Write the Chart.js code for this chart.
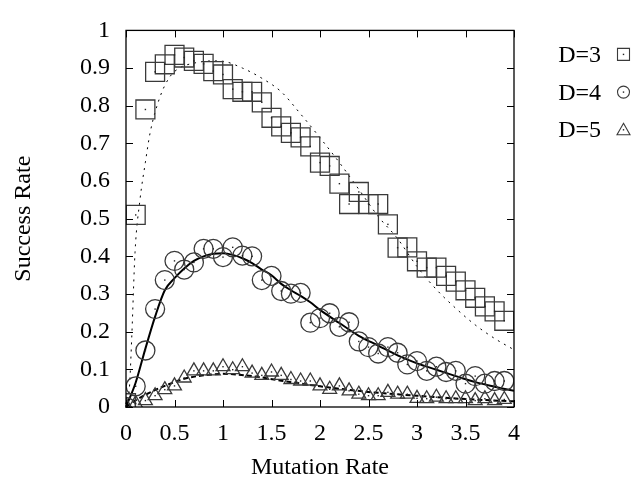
<!DOCTYPE html>
<html>
<head>
<meta charset="utf-8">
<script src="https://cdn.jsdelivr.net/npm/chart.js@4/dist/chart.umd.min.js"></script>
<style>
html,body{margin:0;padding:0;background:#fff;}
#wrap{width:644px;height:483px;}
</style>
</head>
<body>
<div id="wrap"><canvas id="c" width="644" height="483"></canvas></div>
<script>
// ---- data ----
const seriesLabels = ["D=3", "D=4", "D=5"];
const mutationRates = [0,0.1,0.2,0.3,0.4,0.5,0.6,0.7,0.8,0.9,1.0,1.1,1.2,1.3,1.4,1.5,1.6,1.7,1.8,1.9,
                       2.0,2.1,2.2,2.3,2.4,2.5,2.6,2.7,2.8,2.9,3.0,3.1,3.2,3.3,3.4,3.5,3.6,3.7,3.8,3.9];
const d3Success = [0.01,0.51,0.79,0.89,0.91,0.935,0.928,0.919,0.911,0.892,0.883,0.844,0.837,0.837,0.809,0.768,0.745,0.728,0.716,0.692,
                   0.649,0.640,0.593,0.539,0.571,0.539,0.539,0.485,0.423,0.424,0.387,0.370,0.370,0.348,0.333,0.310,0.290,0.267,0.254,0.229];
const d4Success = [0,0.055,0.15,0.26,0.337,0.388,0.365,0.384,0.42,0.42,0.398,0.424,0.402,0.40,0.337,0.348,0.308,0.301,0.303,0.224,
                   0.236,0.249,0.213,0.225,0.174,0.159,0.142,0.159,0.144,0.113,0.122,0.096,0.107,0.093,0.096,0.062,0.082,0.062,0.069,0.069];
const d5Success = [0.003,0.009,0.017,0.030,0.046,0.056,0.077,0.096,0.096,0.096,0.107,0.099,0.107,0.090,0.084,0.093,0.084,0.073,0.069,0.069,
                   0.056,0.047,0.056,0.043,0.034,0.030,0.030,0.039,0.034,0.034,0.023,0.022,0.026,0.022,0.022,0.022,0.017,0.022,0.017,0.020];

// model curves
const d3CurveX = [0,0.035,0.06,0.093,0.144,0.2,0.25,0.35,0.45,0.55,0.7,0.9,1.0,1.2,1.4,1.6,1.8,2.0,2.2,2.4,2.6,2.8,3.0,3.2,3.4,3.6,3.8,4.0];
const d3CurveY = [0,0.05,0.19,0.41,0.55,0.65,0.73,0.823,0.876,0.90,0.913,0.919,0.918,0.90,0.873,0.837,0.778,0.715,0.649,0.578,0.506,0.447,0.373,0.312,0.262,0.218,0.182,0.152];
const d4CurveX = [0,0.1,0.2,0.3,0.4,0.5,0.6,0.7,0.8,0.9,1.0,1.1,1.2,1.3,1.4,1.5,1.6,1.7,1.8,1.9,2.0,2.2,2.4,2.6,2.8,3.0,3.2,3.4,3.6,3.8,4.0];
const d4CurveY = [0,0.065,0.155,0.24,0.31,0.342,0.368,0.388,0.400,0.407,0.408,0.404,0.395,0.382,0.365,0.350,0.327,0.310,0.295,0.278,0.258,0.223,0.189,0.163,0.137,0.116,0.099,0.082,0.066,0.054,0.043];
const d5CurveX = [0,0.1,0.25,0.4,0.6,0.8,1.0,1.3,1.6,2.0,2.5,3.0,3.5,4.0];
const d5CurveY = [0,0.018,0.039,0.056,0.075,0.084,0.088,0.082,0.070,0.055,0.040,0.030,0.021,0.015];

const xTickStep = 0.5, yTickStep = 0.1;
const xMin = 0, xMax = 4, yMin = 0, yMax = 1;

// ---- build datasets ----
const pts = (xs, ys) => xs.map((x, i) => ({x: x, y: ys[i]}));
const FONT = "'Liberation Serif', 'Times New Roman', serif";
const markerColor = '#3a3a3a';
const fmt = v => String(Math.round(v * 10) / 10);

const datasets = [
  {label: seriesLabels[0], data: pts(mutationRates, d3Success), showLine: false, pointStyle: 'rect',
   pointRadius: 13.4, borderColor: markerColor, backgroundColor: 'rgba(0,0,0,0)', borderWidth: 1.3, marker: true},
  {label: seriesLabels[1], data: pts(mutationRates, d4Success), showLine: false, pointStyle: 'circle',
   pointRadius: 9.5, borderColor: markerColor, backgroundColor: 'rgba(0,0,0,0)', borderWidth: 1.3, marker: true},
  {label: seriesLabels[2], data: pts(mutationRates, d5Success), showLine: false, pointStyle: 'triangle',
   pointRadius: 8, borderColor: markerColor, backgroundColor: 'rgba(0,0,0,0)', borderWidth: 1.3, marker: true},
  {label: 'fit3', data: pts(d3CurveX, d3CurveY), showLine: true, pointRadius: 0, borderColor: '#000',
   borderWidth: 1, borderDash: [2, 5], cubicInterpolationMode: 'monotone', fill: false},
  {label: 'fit4', data: pts(d4CurveX, d4CurveY), showLine: true, pointRadius: 0, borderColor: '#000',
   borderWidth: 2, cubicInterpolationMode: 'monotone', fill: false},
  {label: 'fit5', data: pts(d5CurveX, d5CurveY), showLine: true, pointRadius: 0, borderColor: '#000',
   borderWidth: 2, borderDash: [5, 3], cubicInterpolationMode: 'monotone', fill: false}
];

// ---- plugins ----
const centerDots = {
  id: 'centerDots',
  afterDatasetsDraw(chart) {
    const ctx = chart.ctx;
    ctx.save();
    ctx.fillStyle = '#222';
    chart.data.datasets.forEach((ds, i) => {
      if (!ds.marker) return;
      chart.getDatasetMeta(i).data.forEach(p => {
        ctx.fillRect(p.x - 0.7, p.y - 0.7, 1.4, 1.4);
      });
    });
    ctx.restore();
  }
};

const frameTicks = {
  id: 'frameTicks',
  afterDraw(chart) {
    const {ctx, chartArea: a, scales} = chart;
    ctx.save();
    ctx.strokeStyle = '#000';
    ctx.lineWidth = 1.3;
    ctx.strokeRect(a.left, a.top, a.right - a.left, a.bottom - a.top);
    ctx.lineWidth = 1;
    const L = 7;
    ctx.beginPath();
    scales.x.ticks.forEach(t => {
      const px = Math.round(scales.x.getPixelForValue(t.value)) + 0.5;
      ctx.moveTo(px, a.bottom); ctx.lineTo(px, a.bottom - L);
      ctx.moveTo(px, a.top); ctx.lineTo(px, a.top + L);
    });
    scales.y.ticks.forEach(t => {
      const py = Math.round(scales.y.getPixelForValue(t.value)) + 0.5;
      ctx.moveTo(a.left, py); ctx.lineTo(a.left + L, py);
      ctx.moveTo(a.right, py); ctx.lineTo(a.right - L, py);
    });
    ctx.stroke();
    ctx.restore();
  }
};

const sideLegend = {
  id: 'sideLegend',
  afterDraw(chart) {
    const ctx = chart.ctx;
    const a = chart.chartArea;
    ctx.save();
    ctx.font = '24px ' + FONT;
    ctx.fillStyle = '#000';
    ctx.textAlign = 'right';
    ctx.textBaseline = 'alphabetic';
    let k = 0;
    chart.data.datasets.forEach(ds => {
      if (!ds.marker) return;
      const cy = a.top + 24 + k * 37.7;
      ctx.fillStyle = '#000';
      ctx.fillText(ds.label, a.right + 87, cy + 7.5);
      const mx = a.right + 109.5;
      ctx.strokeStyle = markerColor;
      ctx.lineWidth = 1.1;
      ctx.beginPath();
      if (ds.pointStyle === 'rect') {
        ctx.rect(mx - 6, cy - 6, 12, 12);
      } else if (ds.pointStyle === 'circle') {
        ctx.arc(mx, cy, 6, 0, Math.PI * 2);
      } else {
        ctx.moveTo(mx, cy - 6.5);
        ctx.lineTo(mx + 6.5, cy + 5);
        ctx.lineTo(mx - 6.5, cy + 5);
        ctx.closePath();
      }
      ctx.stroke();
      ctx.fillStyle = '#222';
      ctx.fillRect(mx - 0.7, cy - 0.7, 1.4, 1.4);
      k++;
    });
    ctx.restore();
  }
};

new Chart(document.getElementById('c'), {
  type: 'scatter',
  data: {datasets: datasets},
  options: {
    responsive: false,
    animation: false,
    devicePixelRatio: 1,
    layout: {padding: {top: 18, right: 130, left: 0, bottom: 0}},
    plugins: {legend: {display: false}, tooltip: {enabled: false}},
    scales: {
      x: {
        type: 'linear', min: xMin, max: xMax,
        afterFit(scale) { scale.height = 76; },
        grid: {display: false, drawTicks: false},
        border: {display: false},
        ticks: {stepSize: xTickStep, color: '#000', padding: 12, font: {family: FONT, size: 24}, callback: fmt},
        title: {display: true, text: 'Mutation Rate', color: '#000', font: {family: FONT, size: 24},
                padding: {top: 0, bottom: 1}}
      },
      y: {
        type: 'linear', min: yMin, max: yMax,
        afterFit(scale) { scale.width = 126; },
        grid: {display: false, drawTicks: false},
        border: {display: false},
        ticks: {stepSize: yTickStep, color: '#000', padding: 16, font: {family: FONT, size: 24}, callback: fmt},
        title: {display: true, text: 'Success Rate', color: '#000', font: {family: FONT, size: 24},
                padding: {top: 9, bottom: 0}}
      }
    }
  },
  plugins: [centerDots, frameTicks, sideLegend]
});
</script>
</body>
</html>
